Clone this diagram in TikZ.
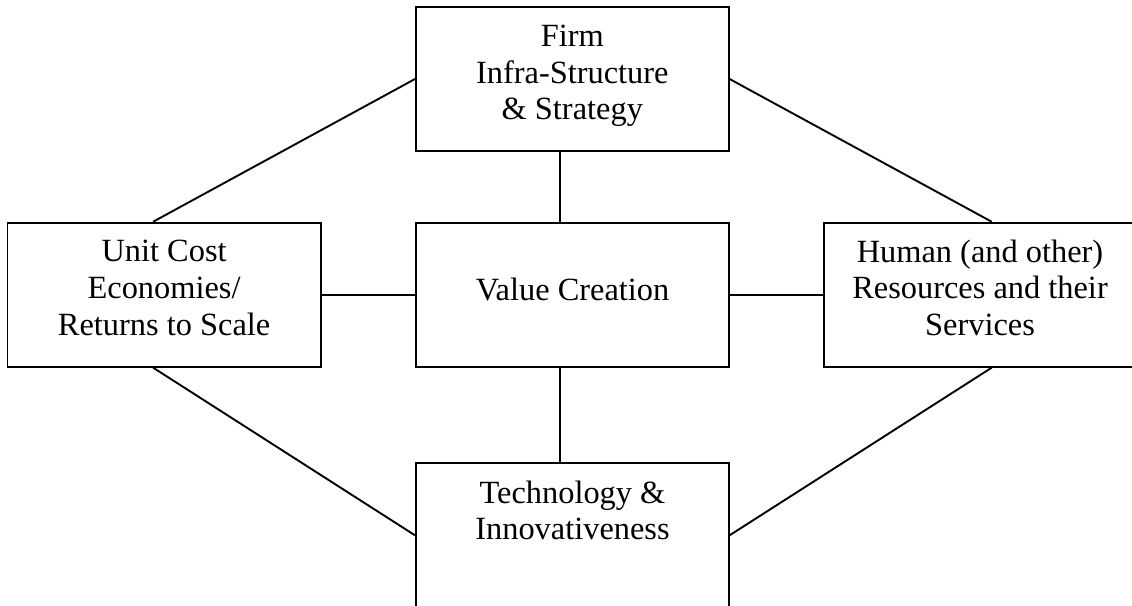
\documentclass[tikz,border=0pt]{standalone}
\usepackage{fontspec}
\setmainfont{Liberation Serif}
\begin{document}
\begin{tikzpicture}[x=1pt,y=-1pt,
  box/.style={draw, line width=1.9pt, inner sep=0pt, minimum width=312.7pt, minimum height=144pt},
  lbl/.style={inner sep=0pt, align=center, font=\fontsize{32.4}{36.7}\selectfont},
  link/.style={line width=1.9pt}]
\useasboundingbox (0,0) rectangle (1132,605);
\clip (0,0) rectangle (1132,605);
% boxes
\node[box] (firm)  at (572.3,79) {};
\node[box, minimum width=313.2pt] (unit) at (164.1,294.7) {};
\node[box] (value) at (572.3,294.7) {};
\node[box, minimum width=312pt] (human) at (980,294.7) {};
\node[box] (tech)  at (572.3,535.3) {};
% texts
\node[lbl] (firmtxt)  at (572.3,76) {Firm\\Infra-Structure\\\& Strategy};
\node[lbl] (unittxt)  at (164.1,288) {Unit Cost\\Economies/\\Returns to Scale};
\node[lbl] (valuetxt) at (572.6,289.9) {Value Creation};
\node[lbl] (humantxt) at (980,287.8) {Human (and other)\\Resources and their\\Services};
\node[lbl] (techtxt)  at (572.5,510.5) {Technology \&\\Innovativeness};
% connectors
\draw[link] (firm.west) -- ([xshift=-11pt]unit.north);
\draw[link] (firm.east) -- ([xshift=11.7pt]human.north);
\draw[link] ([xshift=-11pt]unit.south) -- (tech.west);
\draw[link] ([xshift=11.7pt]human.south) -- (tech.east);
\draw[link] ([xshift=-12pt]firm.south) -- ([xshift=-12pt]value.north);
\draw[link] ([xshift=-12pt]value.south) -- ([xshift=-12pt]tech.north);
\draw[link] (unit.east) -- (value.west);
\draw[link] (value.east) -- (human.west);
\end{tikzpicture}
\end{document}
